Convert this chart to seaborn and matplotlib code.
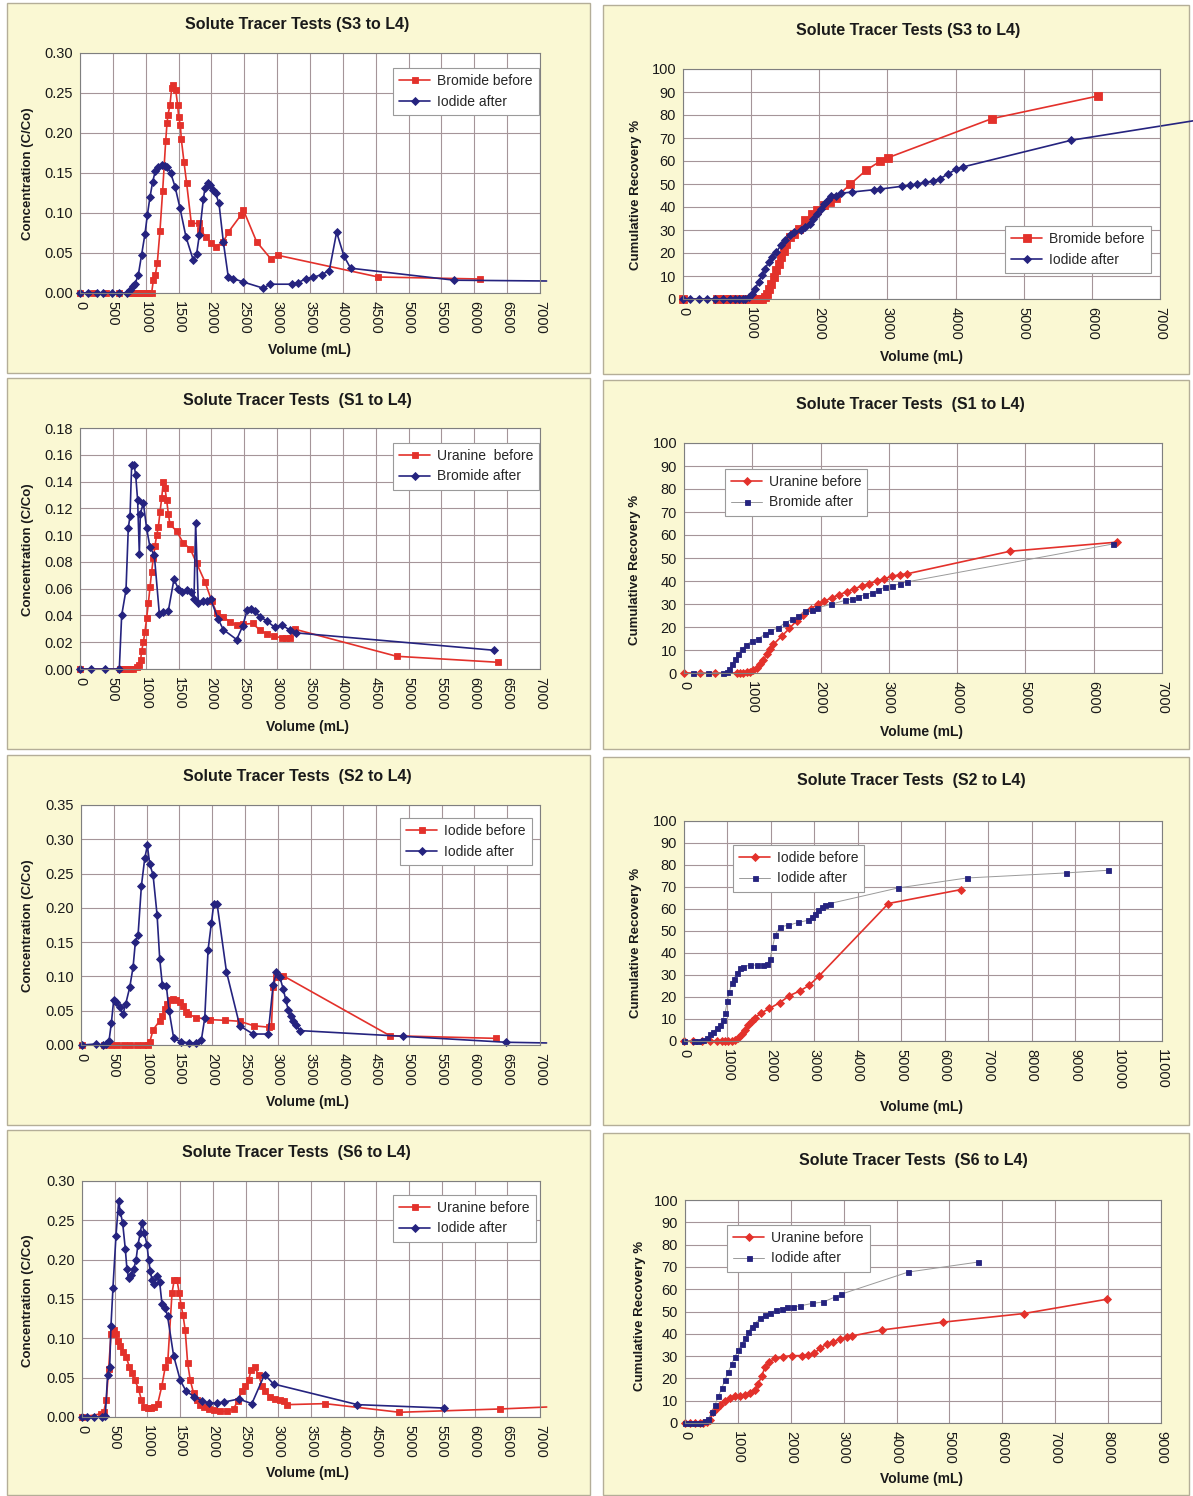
import matplotlib
matplotlib.use("Agg")
import matplotlib.pyplot as plt
from matplotlib.patches import Rectangle
from matplotlib.ticker import MultipleLocator, FormatStrFormatter
import seaborn as sns

# ---------------------------------------------------------------- data
# S3 -> L4 : concentration
s3_br_before_vol = [0, 200, 400, 600, 750, 800, 850, 900, 950, 1000, 1050, 1090, 1116, 1146, 1177, 1217,
                    1258, 1304, 1324, 1339, 1369, 1395, 1420, 1456, 1486, 1501, 1527, 1542, 1582, 1623,
                    1694, 1816, 1826, 1917, 1993, 2069, 2181, 2257, 2450, 2485, 2688, 2901, 3018, 4539, 6086]
s3_br_before_conc = [0, 0, 0, 0, 0, 0, 0, 0, 0, 0, 0, 0, 0.016, 0.0225, 0.038, 0.078, 0.128, 0.19, 0.212,
                     0.223, 0.235, 0.256, 0.26, 0.254, 0.235, 0.22, 0.21, 0.192, 0.164, 0.137, 0.087, 0.087,
                     0.079, 0.07, 0.063, 0.058, 0.064, 0.076, 0.0975, 0.104, 0.064, 0.043, 0.047, 0.020, 0.0175]
s3_i_after_vol = [0, 127, 254, 355, 482, 598, 710, 761, 812, 837, 888, 938, 989, 1025, 1065, 1106, 1146,
                  1192, 1243, 1293, 1329, 1380, 1446, 1522, 1613, 1724, 1775, 1816, 1877, 1902, 1943, 1978,
                  2019, 2064, 2115, 2181, 2257, 2333, 2475, 2790, 2891, 3221, 3322, 3439, 3550, 3677, 3794,
                  3905, 4017, 4118, 5696, 7100]
s3_i_after_conc = [0, 0, 0, 0, 0, 0, 0, 0.004, 0.009, 0.011, 0.023, 0.048, 0.074, 0.0975, 0.12, 0.139,
                   0.1525, 0.158, 0.16, 0.159, 0.157, 0.15, 0.133, 0.106, 0.070, 0.041, 0.049, 0.0725,
                   0.1175, 0.131, 0.138, 0.135, 0.129, 0.1245, 0.112, 0.064, 0.0196, 0.018, 0.014, 0.006,
                   0.011, 0.011, 0.013, 0.018, 0.0196, 0.023, 0.028, 0.076, 0.046, 0.031, 0.016, 0.015]

# S3 -> L4 : cumulative recovery
s3_br_before_rvol = [0, 499, 597, 694, 792, 890, 987, 1061, 1109, 1158, 1197, 1232, 1266, 1295, 1329, 1368,
                     1403, 1437, 1476, 1515, 1564, 1623, 1696, 1794, 1891, 1965, 2063, 2160, 2243, 2454,
                     2688, 2893, 3006, 4531, 6095]
s3_br_before_rec = [0, 0, 0, 0, 0, 0, 0, 0, 0, 0, 0.9, 2.3, 4.5, 6.7, 9.6, 12.5, 15.4, 18.3, 21, 24, 27,
                    28.4, 30.6, 34.2, 37, 38.8, 40.7, 42, 44, 49.9, 56, 59.9, 61.4, 78.4, 88.3]
s3_i_after_rvol = [0, 108, 230, 352, 464, 581, 694, 758, 816, 880, 914, 963, 1012, 1061, 1109, 1158, 1207,
                   1256, 1305, 1368, 1437, 1500, 1564, 1623, 1730, 1794, 1857, 1906, 1965, 2023, 2072, 2121,
                   2175, 2243, 2322, 2478, 2796, 2893, 3211, 3324, 3431, 3553, 3675, 3773, 3895, 4008, 4106,
                   5694, 7600]
s3_i_after_rec = [0, 0, 0, 0, 0, 0, 0, 0, 0, 0, 0, 0.9, 2.3, 4.5, 7.4, 10.3, 13.2, 16, 18.3, 20.4, 23.3,
                  25.5, 27.7, 29.1, 30.1, 31.3, 32.8, 34.9, 37.1, 39.3, 41.2, 42.9, 44.6, 45, 46, 46.5,
                  47.5, 47.8, 49, 49.4, 50, 50.7, 51.3, 52.3, 54.5, 56.4, 57.4, 69, 78]

# S1 -> L4 : concentration
s1_ur_before_vol = [0, 609, 659, 710, 761, 811, 862, 898, 923, 938, 964, 989, 1014, 1040, 1065, 1090, 1116,
                    1141, 1167, 1192, 1217, 1243, 1268, 1293, 1319, 1344, 1369, 1471, 1572, 1674, 1775,
                    1902, 2003, 2079, 2181, 2282, 2384, 2485, 2627, 2739, 2850, 2952, 3069, 3134, 3195,
                    3271, 4818, 6365]
s1_ur_before_conc = [0, 0, 0, 0, 0, 0, 0.0015, 0.003, 0.007, 0.0135, 0.02, 0.028, 0.038, 0.049, 0.061,
                     0.0725, 0.083, 0.092, 0.10, 0.106, 0.117, 0.1275, 0.14, 0.135, 0.126, 0.116, 0.108,
                     0.103, 0.094, 0.09, 0.079, 0.065, 0.051, 0.042, 0.039, 0.035, 0.0327, 0.0334, 0.034,
                     0.029, 0.026, 0.0244, 0.0234, 0.0234, 0.0234, 0.0297, 0.0095, 0.005]
s1_br_after_vol = [0, 162, 375, 598, 634, 700, 735, 761, 786, 822, 847, 877, 903, 918, 964, 1014, 1065,
                   1131, 1207, 1268, 1344, 1430, 1496, 1547, 1623, 1684, 1735, 1760, 1800, 1866, 1927, 1988,
                   2105, 2181, 2384, 2475, 2546, 2602, 2663, 2739, 2840, 2967, 3069, 3195, 3287, 6299]
s1_br_after_conc = [0, 0, 0, 0, 0.04, 0.059, 0.1055, 0.114, 0.1524, 0.1524, 0.145, 0.126, 0.086, 0.116,
                    0.124, 0.105, 0.091, 0.085, 0.0414, 0.0427, 0.0434, 0.067, 0.06, 0.0576, 0.059, 0.0576,
                    0.0526, 0.109, 0.049, 0.051, 0.051, 0.052, 0.037, 0.0294, 0.022, 0.032, 0.0444, 0.045,
                    0.0434, 0.039, 0.036, 0.031, 0.033, 0.029, 0.027, 0.014]

# S1 -> L4 : cumulative recovery
s1_ur_before_rvol = [0, 234, 455, 772, 821, 870, 918, 967, 1016, 1065, 1114, 1163, 1212, 1260, 1309, 1431,
                     1544, 1651, 1749, 1856, 1969, 2052, 2164, 2276, 2384, 2491, 2604, 2716, 2824, 2931,
                     3043, 3166, 3263, 4768, 6341]
s1_ur_before_rec = [0, 0, 0, 0, 0, 0, 0.3, 0.6, 1.2, 2.3, 3.8, 5.8, 8.1, 10.3, 12.4, 16, 19.4, 22.8, 25.4,
                    28, 30, 31.2, 32.7, 34.1, 35.3, 36.7, 37.7, 38.9, 39.9, 41, 42, 42.8, 43.1, 52.9, 56.9]
s1_br_after_rvol = [127, 357, 576, 625, 664, 699, 747, 796, 845, 909, 992, 1089, 1187, 1260, 1382, 1480,
                    1578, 1676, 1773, 1871, 1944, 2149, 2360, 2457, 2555, 2653, 2750, 2848, 2946, 3043,
                    3166, 3263, 6282]
s1_br_after_rec = [0, 0, 0, 0.6, 1.6, 3.8, 5.9, 8.4, 10.3, 12.1, 13.9, 15, 16.8, 18.2, 19.7, 21.8, 23.3,
                   24.7, 26.9, 27.6, 28.3, 29.8, 31.6, 32.2, 33.1, 34.1, 34.8, 36.1, 37.3, 37.7, 38.9,
                   39.6, 56.1]

# S2 -> L4 : concentration
s2_i_before_vol = [20, 350, 450, 550, 650, 750, 850, 950, 1022, 1048, 1099, 1201, 1241, 1277, 1312, 1353,
                   1404, 1455, 1506, 1557, 1607, 1633, 1760, 1964, 2193, 2421, 2635, 2864, 2905, 2930, 2971,
                   3083, 4711, 6328]
s2_i_before_conc = [0, 0, 0, 0, 0, 0, 0, 0, 0, 0.004, 0.022, 0.0355, 0.043, 0.0526, 0.06, 0.065, 0.067,
                    0.066, 0.062, 0.0575, 0.0487, 0.045, 0.040, 0.037, 0.036, 0.0346, 0.028, 0.026, 0.028,
                    0.084, 0.099, 0.101, 0.0136, 0.0097]
s2_i_after_vol = [20, 224, 336, 387, 427, 463, 499, 539, 590, 641, 682, 743, 794, 829, 870, 921, 972, 1012,
                  1048, 1099, 1160, 1201, 1241, 1302, 1343, 1414, 1521, 1648, 1750, 1836, 1887, 1938, 1989,
                  2025, 2075, 2218, 2421, 2625, 2854, 2930, 2981, 3032, 3083, 3123, 3159, 3195, 3235, 3276,
                  3337, 4904, 6481, 7100]
s2_i_after_conc = [0, 0.0015, 0, 0.0015, 0.006, 0.032, 0.066, 0.062, 0.055, 0.045, 0.06, 0.084, 0.1135,
                   0.15, 0.16, 0.232, 0.272, 0.291, 0.264, 0.248, 0.19, 0.125, 0.087, 0.086, 0.050, 0.0097,
                   0.0049, 0.003, 0.003, 0.0078, 0.039, 0.139, 0.178, 0.206, 0.206, 0.107, 0.028, 0.016,
                   0.016, 0.0877, 0.106, 0.099, 0.082, 0.066, 0.0516, 0.043, 0.0355, 0.029, 0.021, 0.0127,
                   0.004, 0.003]

# S2 -> L4 : cumulative recovery
s2_i_before_rvol = [0, 215, 407, 599, 752, 867, 944, 1021, 1097, 1174, 1251, 1328, 1404, 1481, 1558, 1635,
                    1765, 1965, 2210, 2425, 2671, 2886, 3116, 4704, 6370]
s2_i_before_rec = [0, 0, 0, 0, 0, 0, 0, 0, 0, 0.5, 1.5, 3, 5, 7.3, 9.1, 10.6, 12.6, 14.8, 17.5, 20.6,
                   22.8, 25.4, 29.7, 62.5, 68.8]
s2_i_after_rvol = [0, 230, 330, 445, 522, 599, 675, 752, 829, 890, 944, 998, 1044, 1097, 1151, 1213, 1289,
                   1366, 1520, 1673, 1827, 1919, 1980, 2041, 2095, 2210, 2402, 2632, 2862, 2939, 3016, 3093,
                   3170, 3246, 3361, 4935, 6508, 8795, 9754]
s2_i_after_rec = [0, 0, 0, 0.5, 1.5, 3, 4.2, 5.7, 7.3, 9.5, 12.6, 18.2, 22.4, 26.2, 28.4, 30.7, 33, 33.7,
                  34.5, 34.5, 34.5, 35.2, 37.5, 42.8, 48.1, 51.9, 52.6, 53.9, 54.9, 56.4, 57.9, 59.5, 61,
                  62, 62.5, 69.6, 74.1, 76.4, 77.6]

# S6 -> L4 : concentration
s6_ur_before_vol = [0, 290, 331, 372, 407, 443, 484, 519, 550, 585, 626, 677, 723, 764, 804, 865, 906, 952,
                    1003, 1054, 1105, 1156, 1222, 1273, 1313, 1375, 1410, 1451, 1487, 1512, 1543, 1578,
                    1614, 1655, 1705, 1756, 1807, 1858, 1935, 2011, 2113, 2215, 2316, 2377, 2444, 2495,
                    2545, 2586, 2637, 2698, 2749, 2800, 2876, 2953, 3019, 3080, 3131, 3716, 4852, 6389, 7102]
s6_ur_before_conc = [0, 0.004, 0.006, 0.022, 0.061, 0.105, 0.111, 0.105, 0.096, 0.09, 0.082, 0.076, 0.064,
                     0.056, 0.0475, 0.0356, 0.022, 0.0127, 0.011, 0.011, 0.0123, 0.0165, 0.04, 0.064, 0.073,
                     0.157, 0.1746, 0.1746, 0.157, 0.143, 0.13, 0.11, 0.069, 0.0466, 0.0305, 0.022, 0.0157,
                     0.0127, 0.0106, 0.0085, 0.0072, 0.0072, 0.0102, 0.02, 0.0326, 0.04, 0.0466, 0.06,
                     0.063, 0.054, 0.04, 0.0326, 0.026, 0.0229, 0.022, 0.02, 0.0157, 0.017, 0.006, 0.0102,
                     0.0127]
s6_i_after_vol = [0, 76, 188, 305, 356, 392, 423, 443, 473, 519, 560, 585, 621, 662, 687, 713, 748, 789,
                  825, 855, 891, 916, 952, 993, 1018, 1044, 1069, 1105, 1145, 1186, 1222, 1273, 1308, 1400,
                  1502, 1593, 1716, 1833, 1935, 2062, 2174, 2393, 2596, 2790, 2927, 4210, 5534]
s6_i_after_conc = [0, 0, 0, 0, 0.001, 0.054, 0.064, 0.116, 0.164, 0.23, 0.274, 0.261, 0.247, 0.2135,
                   0.188, 0.177, 0.181, 0.188, 0.199, 0.219, 0.234, 0.247, 0.234, 0.219, 0.2, 0.185,
                   0.1746, 0.169, 0.179, 0.172, 0.144, 0.139, 0.128, 0.078, 0.0466, 0.0326, 0.026, 0.02,
                   0.0178, 0.0178, 0.019, 0.0229, 0.017, 0.054, 0.042, 0.0157, 0.0114]

# S6 -> L4 : cumulative recovery
s6_ur_before_rvol = [0, 95, 189, 284, 347, 410, 473, 536, 599, 662, 757, 851, 946, 1040, 1135, 1230, 1324,
                     1387, 1450, 1513, 1595, 1702, 1860, 2018, 2207, 2333, 2440, 2554, 2680, 2806, 2932,
                     3058, 3153, 3720, 4874, 6412, 7976]
s6_ur_before_rec = [0, 0, 0, 0, 0, 0.3, 1.5, 4.8, 6.7, 8.2, 10, 11.2, 11.9, 12.2, 12.6, 13.4, 14.9, 17.6,
                    21.1, 25, 27.5, 29, 29.8, 30.2, 30.2, 30.5, 31.2, 33.5, 35.4, 36.5, 37.5, 38.4, 39,
                    41.7, 45.2, 49.1, 55.5]
s6_i_after_rvol = [0, 95, 189, 284, 378, 441, 504, 568, 631, 694, 757, 820, 883, 946, 1009, 1072, 1135,
                   1198, 1261, 1324, 1419, 1513, 1608, 1721, 1829, 1923, 2049, 2175, 2396, 2617, 2837, 2945,
                   4224, 5549]
s6_i_after_rec = [0, 0, 0, 0, 0.7, 1.8, 4.8, 8.2, 11.9, 15.6, 19.3, 23, 26.5, 29.8, 32.7, 35.4, 37.9,
                  40.9, 43.2, 44.6, 46.9, 48.4, 49.4, 50.6, 51.3, 51.8, 52.1, 52.5, 53.6, 54.3, 56.5, 57.7,
                  67.7, 72.2]

# ---------------------------------------------------------------- style
W, H = 1193, 1496
RED = "#E3312B"
NAVY = "#25237F"
THIN = "#9A9A9A"
BG = "#FAF8D3"
EDGE = "#B4AE98"
GRID = "#A59599"
SPINE = "#7F7F7F"

sns.set_theme(style="white")
plt.rcParams["font.family"] = ["Liberation Sans", "DejaVu Sans"]

fig = plt.figure(figsize=(W / 100, H / 100), dpi=100)
fig.patch.set_facecolor("white")


def fbox(x0, y0, x1, y1):
    return [x0 / W, 1 - y1 / H, (x1 - x0) / W, (y1 - y0) / H]


def fpt(x, y):
    return x / W, 1 - y / H


CONC = "Concentration (C/Co)"
REC = "Cumulative Recovery %"

# each series: (x, y, label, kind) ; kind selects the marker/line look
panels = [
    dict(bg=(7, 3, 590, 373), plot=(80, 53, 540, 293), title="Solute Tracer Tests (S3 to L4)",
         tpos=(297, 25), xlpos=(310, 350), ylpos=(28, 174), ylabel=CONC,
         xlim=7000, xstep=500, xminor=100, ylim=0.30, ystep=0.05, yminor=0.01, yfmt="%.2f",
         leg=(393, 68),
         series=[(s3_br_before_vol, s3_br_before_conc, "Bromide before", "red_sq"),
                 (s3_i_after_vol, s3_i_after_conc, "Iodide after", "navy_dia_tail")]),
    dict(bg=(603, 5, 1189, 374), plot=(683, 69, 1160, 299), title="Solute Tracer Tests (S3 to L4)",
         tpos=(908, 30), xlpos=(922, 357), ylpos=(636, 195), ylabel=REC,
         xlim=7000, xstep=1000, xminor=200, ylim=100, ystep=10, yminor=2, yfmt="%d",
         leg=(1005, 226),
         series=[(s3_br_before_rvol, s3_br_before_rec, "Bromide before", "red_sq_big"),
                 (s3_i_after_rvol, s3_i_after_rec, "Iodide after", "navy_dia_tail")]),
    dict(bg=(7, 378, 590, 749), plot=(80, 428, 540, 669), title="Solute Tracer Tests  (S1 to L4)",
         tpos=(297, 400), xlpos=(307, 727), ylpos=(28, 550), ylabel=CONC,
         xlim=7000, xstep=500, xminor=100, ylim=0.18, ystep=0.02, yminor=0.004, yfmt="%.2f",
         leg=(393, 443),
         series=[(s1_ur_before_vol, s1_ur_before_conc, "Uranine  before", "red_sq"),
                 (s1_br_after_vol, s1_br_after_conc, "Bromide after", "navy_dia")]),
    dict(bg=(603, 380, 1189, 749), plot=(684, 443, 1162, 673), title="Solute Tracer Tests  (S1 to L4)",
         tpos=(910, 404), xlpos=(922, 732), ylpos=(635, 570), ylabel=REC,
         xlim=7000, xstep=1000, xminor=200, ylim=100, ystep=10, yminor=2, yfmt="%d",
         leg=(725, 469),
         series=[(s1_ur_before_rvol, s1_ur_before_rec, "Uranine before", "red_dia"),
                 (s1_br_after_rvol, s1_br_after_rec, "Bromide after", "navy_sq_thin")]),
    dict(bg=(7, 755, 590, 1125), plot=(81, 805, 540, 1045), title="Solute Tracer Tests  (S2 to L4)",
         tpos=(297, 777), xlpos=(307, 1102), ylpos=(28, 926), ylabel=CONC,
         xlim=7000, xstep=500, xminor=100, ylim=0.35, ystep=0.05, yminor=0.01, yfmt="%.2f",
         leg=(400, 818),
         series=[(s2_i_before_vol, s2_i_before_conc, "Iodide before", "red_sq"),
                 (s2_i_after_vol, s2_i_after_conc, "Iodide after", "navy_dia_tail")]),
    dict(bg=(603, 757, 1189, 1125), plot=(684, 821, 1162, 1041), title="Solute Tracer Tests  (S2 to L4)",
         tpos=(911, 781), xlpos=(922, 1107), ylpos=(636, 943), ylabel=REC,
         xlim=11000, xstep=1000, xminor=200, ylim=100, ystep=10, yminor=2, yfmt="%d",
         leg=(733, 845),
         series=[(s2_i_before_rvol, s2_i_before_rec, "Iodide before", "red_dia"),
                 (s2_i_after_rvol, s2_i_after_rec, "Iodide after", "navy_sq_thin")]),
    dict(bg=(7, 1130, 590, 1495), plot=(82, 1181, 540, 1417), title="Solute Tracer Tests  (S6 to L4)",
         tpos=(296, 1153), xlpos=(307, 1473), ylpos=(28, 1301), ylabel=CONC,
         xlim=7000, xstep=500, xminor=100, ylim=0.30, ystep=0.05, yminor=0.01, yfmt="%.2f",
         leg=(393, 1195),
         series=[(s6_ur_before_vol, s6_ur_before_conc, "Uranine before", "red_sq_tail"),
                 (s6_i_after_vol, s6_i_after_conc, "Iodide after", "navy_dia")]),
    dict(bg=(603, 1133, 1189, 1495), plot=(685, 1200, 1161, 1423), title="Solute Tracer Tests  (S6 to L4)",
         tpos=(913, 1161), xlpos=(922, 1479), ylpos=(640, 1316), ylabel=REC,
         xlim=9000, xstep=1000, xminor=200, ylim=100, ystep=10, yminor=2, yfmt="%d",
         leg=(727, 1225),
         series=[(s6_ur_before_rvol, s6_ur_before_rec, "Uranine before", "red_dia"),
                 (s6_i_after_rvol, s6_i_after_rec, "Iodide after", "navy_sq_thin")]),
]

looks = {
    "red_sq": dict(color=RED, lw=1.2, marker="s", ms=5, mfc=RED, mec=RED),
    "red_sq_big": dict(color=RED, lw=1.2, marker="s", ms=6, mfc=RED, mec=RED),
    "red_dia": dict(color=RED, lw=1.2, marker="D", ms=4, mfc=RED, mec=RED),
    "navy_dia": dict(color=NAVY, lw=1.2, marker="D", ms=4, mfc=NAVY, mec=NAVY),
    "navy_sq_thin": dict(color=THIN, lw=0.7, marker="s", ms=3.6, mfc=NAVY, mec=NAVY),
}
looks["red_sq_tail"] = looks["red_sq"]
looks["navy_dia_tail"] = looks["navy_dia"]

for p in panels:
    x0, y0, x1, y1 = p["bg"]
    fig.add_artist(Rectangle(fpt(x0, y1), (x1 - x0) / W, (y1 - y0) / H, transform=fig.transFigure,
                             facecolor=BG, edgecolor=EDGE, lw=1.0, zorder=0))

    ax = fig.add_axes(fbox(*p["plot"]))
    ax.set_facecolor("white")
    ax.set_zorder(2)

    for xs, ys, label, kind in p["series"]:
        lk = looks[kind]
        # a trailing point that lies past the chart edge carries the line but no marker
        n_mark = len(xs) - 1 if kind.endswith("_tail") else len(xs)
        sns.lineplot(x=xs, y=ys, ax=ax, sort=False, estimator=None, color=lk["color"],
                     linewidth=lk["lw"], marker=lk["marker"], markersize=lk["ms"],
                     markerfacecolor=lk["mfc"], markeredgecolor=lk["mec"], markeredgewidth=0.6,
                     markevery=list(range(n_mark)), clip_on=False, label=label, legend=False)

    ax.set_xlim(0, p["xlim"])
    ax.set_ylim(0, p["ylim"])
    ax.xaxis.set_major_locator(MultipleLocator(p["xstep"]))
    ax.xaxis.set_minor_locator(MultipleLocator(p["xminor"]))
    ax.yaxis.set_major_locator(MultipleLocator(p["ystep"]))
    ax.yaxis.set_minor_locator(MultipleLocator(p["yminor"]))
    ax.yaxis.set_major_formatter(FormatStrFormatter(p["yfmt"]))
    ax.xaxis.set_major_formatter(FormatStrFormatter("%d"))
    ax.grid(True, which="major", color=GRID, lw=0.8)
    ax.set_axisbelow(True)
    ax.tick_params(axis="both", which="major", length=3, width=0.7, color=SPINE,
                   labelsize=10.5, labelcolor="#1A1A1A", pad=2, direction="out")
    ax.tick_params(axis="both", which="minor", length=2, width=0.5, color=SPINE, direction="in")
    ax.tick_params(axis="x", which="major", labelrotation=-90, pad=3)
    for s in ax.spines.values():
        s.set_color(SPINE)
        s.set_linewidth(0.8)
    ax.set_xlabel("")
    ax.set_ylabel("")

    lx, ly = p["leg"]
    px0, py0, px1, py1 = p["plot"]
    leg = ax.legend(loc="upper left",
                    bbox_to_anchor=((lx - px0) / (px1 - px0), 1 - (ly - py0) / (py1 - py0)),
                    fontsize=10, frameon=True, fancybox=False, framealpha=1, edgecolor="#9A9A9A",
                    borderpad=0.45, labelspacing=0.45, handlelength=2.2, handletextpad=0.5,
                    borderaxespad=0)
    leg.get_frame().set_linewidth(0.8)
    # one marker in the middle of each legend sample
    for h in leg.legend_handles:
        h.set_markevery([1])

    fig.text(*fpt(*p["tpos"]), p["title"], ha="center", va="center", fontsize=11.5,
             fontweight="bold", color="#1A1A1A")
    fig.text(*fpt(*p["xlpos"]), "Volume (mL)", ha="center", va="center", fontsize=10,
             fontweight="bold", color="#1A1A1A")
    fig.text(*fpt(*p["ylpos"]), p["ylabel"], ha="center", va="center", rotation=90, fontsize=9.5,
             fontweight="bold", color="#1A1A1A")

fig.savefig("out.png", dpi=100, facecolor="white")
